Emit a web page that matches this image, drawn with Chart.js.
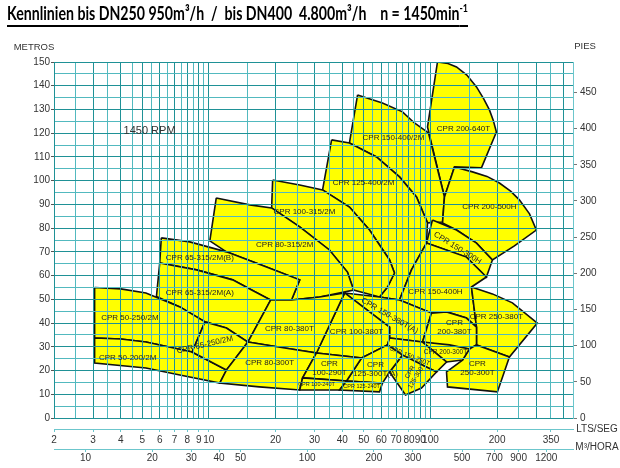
<!DOCTYPE html>
<html>
<head>
<meta charset="utf-8">
<script src="https://cdn.jsdelivr.net/npm/chart.js@4.4.1/dist/chart.umd.min.js"></script>
<style>
  body { margin: 0; background: #fff; }
  #wrap { position: relative; width: 620px; height: 468px; overflow: hidden; }
  canvas { position: absolute; left: 0; top: 0; }
  #title {
    position: absolute; left: 7px; top: 1px;
    font: bold 19px Lato, "Open Sans", sans-serif; color: #000;
    white-space: pre; text-decoration: underline;
    text-decoration-thickness: 2px; text-underline-offset: 5px;
    transform-origin: 0 0;
  }
  #title sup { font-size: 12px; vertical-align: 8px; line-height: 0; }
</style>
</head>
<body>
<div id="wrap">
  <canvas id="chart" width="620" height="468"></canvas>
  <div id="title">Kennlinien bis DN250 950m³/h  /  bis DN400  4.800m³/h    n = 1450min<sup>-1</sup></div>
</div>
<script>
// pump zones: flow in l/s, head in m
const zoneNames = [
  'CPR 200-640T', 'CPR 150-400/2M', 'CPR 125-400/2M', 'CPR 100-315/2M', 'CPR 80-315/2M',
  'CPR 65-315/2M(B)', 'CPR 65-315/2M(A)', 'CPR 50-250/2M', 'CPR 50-200/2M', 'CPR 65-250/2M',
  'CPR 200-500H', 'CPR 150-300H', 'CPR 150-400H', 'CPR 150-380T(A)', 'CPR 100-380T',
  'CPR 80-380T', 'CPR 80-300T', 'CPR 250-380T', 'CPR 200-380T', 'CPR 250-300T',
  'CPR 200-300T', 'CPR 150-250T', 'CPR 125-300T', 'CPR 125-300T(A)', 'CPR 100-290T',
  'CPR 100-240T', 'CPR 125-240T'
];
const zoneFlow = [
  [107.6, 120.0, 131.1, 146.0, 161.4, 174.0, 184.6, 192.0, 198.5, 169.9, 128.4, 115.7, 97.0],
  [46.9, 60.7, 74.8, 84.7, 98.0, 115.7, 113.4, 97.0, 86.5, 72.5, 57.1, 43.1],
  [35.8, 43.1, 57.1, 72.5, 86.5, 97.0, 96.0, 82.1, 72.5, 58.9, 64.0, 68.8, 65.4, 53.1, 43.1, 32.6],
  [19.4, 25.7, 32.6, 43.1, 53.1, 65.4, 68.8, 64.0, 58.9, 45.0, 42.2, 35.0, 25.7, 19.2],
  [10.8, 15.3, 19.2, 25.7, 35.0, 42.2, 45.0, 31.6, 23.6, 25.7, 18.2, 12.0, 10.1],
  [6.1, 8.2, 12.0, 18.2, 25.7, 23.6, 19.0, 15.6, 12.8, 8.8, 6.0],
  [6.0, 8.8, 12.8, 15.6, 19.0, 15.0, 12.0, 9.6, 7.4, 5.8],
  [3.05, 4.0, 5.2, 7.4, 9.6, 8.4, 5.2, 4.0, 3.05],
  [3.05, 4.0, 5.2, 8.4, 12.0, 11.2, 7.4, 5.2, 3.05],
  [9.6, 12.0, 15.0, 12.0, 8.4],
  [128.4, 154.8, 180.0, 204.8, 230.0, 252.0, 280.0, 300.6, 239.3, 190.4, 161.4, 131.1, 113.4, 115.7],
  [102.1, 131.1, 161.4, 190.4, 178.9, 145.4, 96.0],
  [96.0, 145.4, 178.9, 153.2, 161.4, 145.4, 118.2, 101.1, 72.5, 82.1],
  [41.0, 58.9, 72.5, 101.1, 92.1, 65.4, 65.4],
  [41.0, 65.4, 65.4, 64.0, 48.9, 30.6],
  [19.0, 23.6, 31.6, 41.0, 35.4, 30.6, 22.0, 15.0],
  [15.0, 22.0, 30.6, 26.5, 25.7, 16.9, 11.2, 12.0],
  [153.2, 190.4, 234.4, 303.7, 227.2, 161.4, 161.4],
  [101.1, 118.2, 145.4, 161.4, 161.4, 150.0, 92.1],
  [150.0, 161.4, 227.2, 200.6, 119.4, 118.2, 139.5],
  [92.1, 121.9, 150.0, 139.5, 118.2],
  [65.4, 92.1, 118.2, 106.5, 74.8, 64.0],
  [74.8, 106.5, 91.1, 77.2, 65.4],
  [48.9, 64.0, 74.8, 65.4, 60.7, 41.8],
  [30.6, 48.9, 41.8, 26.5],
  [26.5, 41.8, 38.9, 25.7],
  [41.8, 60.7, 58.9, 38.9]
];
const zoneHead = [
  [150, 149.4, 147.9, 144.5, 139.5, 134.5, 129.8, 125.5, 120.5, 105.4, 105.8, 93.1, 122.6],
  [136.1, 132.7, 129.0, 124.3, 120.1, 93.1, 82.6, 82.2, 93.1, 101.6, 110.0, 115.9],
  [117.2, 115.9, 110.0, 101.6, 93.1, 82.2, 73.7, 62.4, 49.7, 51.0, 55.2, 61.1, 66.6, 79.2, 88.9, 96.1],
  [100.3, 98.2, 96.1, 88.9, 79.2, 66.6, 61.1, 55.2, 51.0, 53.9, 61.5, 70.8, 80.5, 88.5],
  [92.7, 89.8, 88.5, 80.5, 70.8, 61.5, 53.9, 51.0, 49.7, 58.2, 63.6, 70.0, 74.6],
  [75.9, 74.2, 70.0, 63.6, 58.2, 49.7, 49.7, 53.9, 58.2, 62.4, 65.3],
  [65.3, 62.4, 58.2, 53.9, 49.7, 32.0, 37.9, 40.5, 46.8, 51.2],
  [55.0, 54.4, 52.7, 46.8, 40.5, 27.8, 32.0, 33.3, 33.7],
  [33.7, 33.3, 32.0, 27.8, 20.2, 14.7, 18.1, 21.1, 23.2],
  [40.5, 37.9, 32.0, 20.2, 27.8],
  [105.8, 103.7, 101.8, 99.0, 95.6, 91.9, 86.0, 79.2, 72.5, 66.6, 73.7, 79.2, 82.2, 93.1],
  [83.4, 79.2, 73.7, 66.6, 59.4, 67.8, 73.7],
  [73.7, 67.8, 59.4, 55.2, 38.3, 42.1, 44.7, 44.2, 49.7, 62.4],
  [52.7, 51.0, 49.7, 44.2, 32.0, 33.7, 38.3],
  [52.7, 38.3, 33.7, 30.8, 25.3, 27.4],
  [49.7, 49.7, 51.0, 52.7, 40.0, 27.4, 29.5, 32.0],
  [32.0, 29.5, 27.4, 16.9, 11.8, 13.1, 14.7, 20.2],
  [55.2, 52.3, 48.5, 40.0, 25.7, 30.8, 38.3],
  [44.2, 44.7, 42.1, 38.3, 30.8, 29.1, 32.0],
  [29.1, 30.8, 25.7, 11.0, 13.1, 19.4, 24.4],
  [32.0, 30.8, 29.1, 24.4, 23.6],
  [33.7, 32.0, 23.6, 19.4, 26.5, 30.8],
  [26.5, 19.4, 12.6, 9.7, 19.4],
  [25.3, 30.8, 26.5, 19.4, 14.7, 15.6],
  [27.4, 25.3, 15.6, 16.9],
  [16.9, 15.6, 11.8, 11.8],
  [15.6, 14.7, 11.0, 11.8]
];

// zone captions, anchored at (flow, head)
const labelText = [
  'CPR 200-640T', 'CPR 150-400/2M', 'CPR 125-400/2M', 'CPR 200-500H', 'CPR 100-315/2M',
  'CPR 80-315/2M', 'CPR 150-300H', 'CPR 65-315/2M(B)', 'CPR 150-400H', 'CPR 65-315/2M(A)',
  'CPR 150-380T(A)', 'CPR 250-380T', 'CPR 50-250/2M', 'CPR 80-380T', 'CPR 100-380T',
  'CPR\n200-380T', 'CPR 65-250/2M', 'CPR 200-300T', 'CPR 150-250T', 'CPR 50-200/2M',
  'CPR 80-300T', 'CPR\n100-290T', 'CPR\n125-300T(A)', 'CPR\n125-300T', 'CPR\n250-300T',
  'CPR 100-240T', 'CPR 125-240T'
];
const labelFlow = [
  141, 68.1, 49.9, 184.6, 27.0,
  22.0, 132.5, 9.1, 105.4, 9.1,
  65.4, 198.5, 4.4, 23.1, 46.4,
  128.4, 9.6, 116.9, 80.4, 4.3,
  18.8, 35.0, 56.5, 83.8, 163.0,
  30.6, 48.9
];
const labelHead = [
  121.8, 118.0, 99.0, 88.9, 86.8,
  72.9, 71.6, 67.4, 53.1, 52.7,
  43.0, 42.6, 42.1, 37.5, 36.2,
  38.3, 30.8, 27.8, 26.1, 25.3,
  23.2, 21.1, 20.6, 18.5, 21.1,
  14.3, 13.1
];
const labelAngle = [0, 0, 0, 0, 0, 0, 32, 0, 0, 0, 30, 0, 0, 0, 0, 0, -13, 0, 22, 0, 0, 0, 0, -60, 0, 0, 0];
const labelSize = [8, 8, 8, 8, 8, 8, 8, 8, 8, 8, 8, 8, 8, 8, 8, 8, 8, 6.5, 6.5, 8, 8, 8, 8, 6.5, 8, 5.5, 5.5];

const rpmFlow = 5.4, rpmHead = 121;

// axes
const headTicks = [0, 5, 10, 15, 20, 25, 30, 35, 40, 45, 50, 55, 60, 65, 70, 75, 80, 85, 90, 95, 100,
  105, 110, 115, 120, 125, 130, 135, 140, 145, 150];
const piesTicks = [0, 50, 100, 150, 200, 250, 300, 350, 400, 450];
const flowGrid = [2, 2.5, 3, 3.5, 4, 4.5, 5, 5.5, 6, 6.5, 7, 7.5, 8, 8.5, 9, 9.5, 10,
  15, 20, 25, 30, 35, 40, 45, 50, 55, 60, 65, 70, 75, 80, 85, 90, 95, 100,
  150, 200, 250, 300, 350, 400];
const ltsTicks = [2, 3, 4, 5, 6, 7, 8, 9, 10, 20, 30, 40, 50, 60, 70, 80, 90, 100, 200, 350];
const m3hTicks = [10, 20, 30, 40, 50, 100, 200, 300, 500, 700, 900, 1200];

const FLOW_MIN = 2, FLOW_MAX = 440, HEAD_MAX = 150;
const M_TO_FT = 3.28084, LS_TO_M3H = 3.6;

const GRID = '#1f9196', GRID_LIGHT = '#52b9bf', AXIS_LINE = '#6cc6cc', AXIS_TXT = '#333';
const FONT = '"Liberation Sans", Arial, sans-serif';

Chart.defaults.font.family = FONT;

function majorFlow(v) {
  if (v <= 10) return Number.isInteger(v);
  if (v <= 100) return v % 10 === 0;
  return v % 100 === 0;
}

const datasets = zoneNames.map((name, i) => {
  const pts = zoneFlow[i].map((q, j) => ({ x: q, y: zoneHead[i][j] }));
  pts.push(pts[0]);
  return {
    label: name,
    data: pts,
    showLine: true,
    fill: 'shape',
    backgroundColor: '#ffff00',
    borderColor: '#111',
    borderWidth: 1.6,
    pointRadius: 0,
    tension: 0,
    order: zoneNames.length - i
  };
});

const textPlugin = {
  id: 'chartText',
  afterDraw(chart) {
    const { ctx, chartArea, scales } = chart;
    const x = scales.x, y = scales.y;
    ctx.save();
    ctx.textAlign = 'center';
    ctx.textBaseline = 'middle';
    ctx.fillStyle = '#222';
    labelText.forEach((txt, i) => {
      const lines = txt.split('\n');
      const size = labelSize[i];
      ctx.save();
      ctx.translate(x.getPixelForValue(labelFlow[i]), y.getPixelForValue(labelHead[i]));
      ctx.rotate(labelAngle[i] * Math.PI / 180);
      ctx.font = size + 'px ' + FONT;
      lines.forEach((ln, j) => ctx.fillText(ln, 0, (j - (lines.length - 1) / 2) * (size + 1)));
      ctx.restore();
    });

    ctx.fillStyle = AXIS_TXT;
    ctx.font = '11px ' + FONT;
    ctx.fillText('1450 RPM', x.getPixelForValue(rpmFlow), y.getPixelForValue(rpmHead));

    ctx.font = '9.5px ' + FONT;
    ctx.fillText('METROS', chartArea.left - 20, chartArea.top - 15);
    ctx.fillText('PIES', chartArea.right + 12, chartArea.top - 16);
    ctx.font = '10px ' + FONT;
    ctx.fillText('LTS/SEG', chartArea.right + 24, scales.xl.top);
    ctx.fillText('M³/HORA', chartArea.right + 24, scales.xm.top - 2);
    ctx.restore();
  }
};

const tickFont = { size: 10, family: FONT };

new Chart(document.getElementById('chart'), {
  type: 'scatter',
  data: { datasets },
  options: {
    responsive: false,
    animation: false,
    events: [],
    layout: { padding: { top: 62, left: 0, right: 0, bottom: 0 } },
    plugins: { legend: { display: false }, tooltip: { enabled: false } },
    scales: {
      x: {
        type: 'logarithmic', min: FLOW_MIN, max: FLOW_MAX, position: 'bottom', weight: 0,
        afterBuildTicks: s => { s.ticks = flowGrid.map(v => ({ value: v })); },
        afterFit: s => { s.height = 11; },
        ticks: { display: false, autoSkip: false },
        border: { display: false },
        grid: {
          z: 1, drawTicks: false, lineWidth: 1,
          color: c => (c.tick && majorFlow(c.tick.value) ? GRID : GRID_LIGHT)
        }
      },
      xl: {
        type: 'logarithmic', min: FLOW_MIN, max: FLOW_MAX, position: 'bottom', weight: 1,
        afterBuildTicks: s => { s.ticks = ltsTicks.map(v => ({ value: v })); },
        afterFit: s => { s.height = 20; },
        ticks: { autoSkip: false, maxRotation: 0, padding: 2, color: AXIS_TXT, font: tickFont,
          callback: v => String(v) },
        border: { color: AXIS_LINE },
        grid: { drawOnChartArea: false, tickLength: 3, color: AXIS_LINE }
      },
      xm: {
        type: 'logarithmic', min: FLOW_MIN * LS_TO_M3H, max: FLOW_MAX * LS_TO_M3H,
        position: 'bottom', weight: 2,
        afterBuildTicks: s => { s.ticks = m3hTicks.map(v => ({ value: v })); },
        afterFit: s => { s.height = 19; },
        ticks: { autoSkip: false, maxRotation: 0, padding: 0, color: AXIS_TXT, font: tickFont,
          callback: v => String(v) },
        border: { color: AXIS_LINE },
        grid: { drawOnChartArea: false, tickLength: 3, color: AXIS_LINE }
      },
      y: {
        type: 'linear', min: 0, max: HEAD_MAX, position: 'left',
        afterBuildTicks: s => { s.ticks = headTicks.map(v => ({ value: v })); },
        afterFit: s => { s.width = 54; },
        ticks: { autoSkip: false, padding: 1, color: AXIS_TXT, font: tickFont,
          callback: v => (v % 10 === 0 ? String(v) : '') },
        border: { color: GRID, z: 1 },
        grid: {
          z: 1, tickLength: 3, lineWidth: 1,
          color: c => (c.tick && c.tick.value % 10 === 0 ? GRID : GRID_LIGHT),
          tickColor: c => (c.tick && c.tick.value % 10 === 0 ? '#555' : 'transparent')
        }
      },
      pies: {
        type: 'linear', min: 0, max: HEAD_MAX * M_TO_FT, position: 'right',
        afterBuildTicks: s => { s.ticks = piesTicks.map(v => ({ value: v })); },
        afterFit: s => { s.width = 47; },
        ticks: { autoSkip: false, padding: 3, color: AXIS_TXT, font: tickFont },
        border: { color: AXIS_LINE, z: 1 },
        grid: { drawOnChartArea: false, tickLength: 4, color: '#777' }
      }
    }
  },
  plugins: [textPlugin]
});

// squeeze the headline to the width it has in the original
function fitTitle() {
  const el = document.getElementById('title');
  el.style.transform = 'none';
  const w = el.getBoundingClientRect().width;
  el.style.transform = 'scaleX(' + (461 / w) + ')';
}
fitTitle();
document.fonts.ready.then(fitTitle);
</script>
</body>
</html>
